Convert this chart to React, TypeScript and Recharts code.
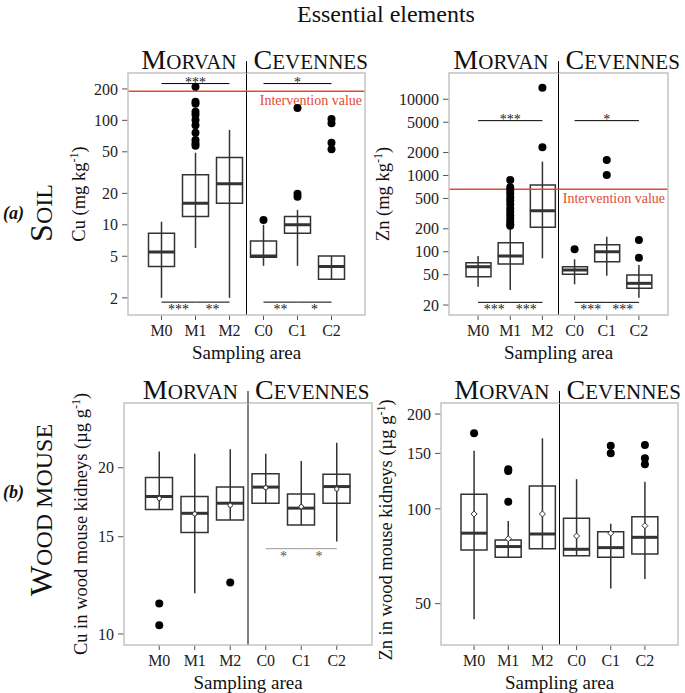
import React from "react";
import { Bar, ComposedChart, ErrorBar, ReferenceLine, Scatter, XAxis, YAxis } from "recharts";

const SERIF = '"Liberation Serif", "DejaVu Serif", serif';
const INK = "#333333";
const RED = "#e34a33";

const areas = ["M0", "M1", "M2", "C0", "C1", "C2"];

// Cu in soil (mg kg-1)
const cuSoilLow = [2.0, 6.0, 2.0, 4.05, 4.05, 3.02];
const cuSoilQ1 = [4.0, 12.0, 16.1, 4.9, 8.3, 3.02];
const cuSoilMedian = [5.5, 16.1, 24.7, 5.04, 10.0, 3.99];
const cuSoilQ3 = [8.3, 30.1, 44.0, 7.0, 12.0, 5.04];
const cuSoilHigh = [10.7, 49.0, 81.0, 10.0, 13.9, 5.04];
const cuSoilOutliers: [string, number[]][] = [
  ["M1", [210, 151, 144, 121, 113, 101, 90, 76, 65, 60, 57]],
  ["C0", [11.1]],
  ["C1", [131, 19.8, 18.6]],
  ["C2", [103, 94, 61, 53]],
];
const cuIntervention = 190;

// Zn in soil (mg kg-1)
const znSoilLow = [34.8, 31.5, 82, 37.4, 48.5, 24.9];
const znSoilQ1 = [47, 69, 209, 50.6, 74, 33.1];
const znSoilMedian = [63.6, 87.9, 346, 57.6, 100, 38.5];
const znSoilQ3 = [71.8, 131.5, 751, 63.6, 123.7, 49.5];
const znSoilHigh = [87.9, 203, 1520, 79.6, 157, 67];
const znSoilOutliers: [string, number[]][] = [
  ["M1", [870, 700, 640, 580, 520, 470, 420, 370, 335, 300, 270, 248, 230, 220]],
  ["M2", [14200, 2350]],
  ["C0", [108]],
  ["C1", [1600, 1017]],
  ["C2", [143, 83.5]],
];
const znIntervention = 660;

// Cu in wood mouse kidneys (µg g-1)
const cuMouseLow = [16.8, 11.85, 16.09, 17.25, 15.76, 14.7];
const cuMouseQ1 = [16.8, 15.26, 16.09, 17.25, 15.76, 17.25];
const cuMouseMedian = [17.74, 16.54, 17.25, 18.45, 16.9, 18.49];
const cuMouseQ3 = [19.2, 17.74, 18.45, 19.5, 17.93, 19.47];
const cuMouseHigh = [21.4, 21.2, 21.6, 21.2, 20.58, 22.2];
const cuMouseMean = [17.6, 16.5, 17.1, 18.4, 17.0, 18.3];
const cuMouseOutliers: [string, number[]][] = [
  ["M0", [11.35, 10.37]],
  ["M2", [12.39]],
];

// Zn in wood mouse kidneys (µg g-1)
const znMouseLow = [44.6, 70.2, 74.7, 70.9, 55.8, 59.9];
const znMouseQ1 = [74, 70.2, 74.7, 70.9, 70.2, 71.9];
const znMouseMedian = [83.7, 75.9, 83.2, 74.4, 75.3, 81.2];
const znMouseQ3 = [111.3, 79.6, 118.2, 93.3, 84.5, 94.4];
const znMouseHigh = [153, 91.5, 167.5, 124.2, 89.6, 122];
const znMouseMean = [96.3, 80.4, 96.3, 82, 83.7, 88.4];
const znMouseOutliers: [string, number[]][] = [
  ["M0", [173.8]],
  ["M1", [133.6, 131.8, 105.4]],
  ["C1", [158.5, 150.1]],
  ["C2", [159.5, 144.7, 138.5]],
];

type Sig = { from: string; to: string; y: number; text: string; below?: boolean };

const cuSoilSigs: Sig[] = [
  { from: "M0", to: "M2", y: 225, text: "***" },
  { from: "C0", to: "C2", y: 225, text: "*" },
  { from: "M0", to: "M1", y: 1.82, text: "***", below: true },
  { from: "M1", to: "M2", y: 1.82, text: "**", below: true },
  { from: "C0", to: "C1", y: 1.82, text: "**", below: true },
  { from: "C1", to: "C2", y: 1.82, text: "*", below: true },
];
const znSoilSigs: Sig[] = [
  { from: "M0", to: "M2", y: 5240, text: "***" },
  { from: "C0", to: "C2", y: 5240, text: "*" },
  { from: "M0", to: "M1", y: 21.7, text: "***", below: true },
  { from: "M1", to: "M2", y: 21.7, text: "***", below: true },
  { from: "C0", to: "C1", y: 21.7, text: "***", below: true },
  { from: "C1", to: "C2", y: 21.7, text: "***", below: true },
];
const cuMouseSigs: Sig[] = [
  { from: "C0", to: "C1", y: 14.27, text: "*", below: true },
  { from: "C1", to: "C2", y: 14.27, text: "*", below: true },
];

function makeRows(low: number[], q1: number[], med: number[], q3: number[], high: number[], mean?: number[]) {
  return areas.map((name, i) => ({
    name,
    box: [q1[i], q3[i]],
    med: med[i],
    whisk: [med[i] - low[i], high[i] - med[i]],
    mean: mean ? mean[i] : undefined,
  }));
}

function makeOutliers(list: [string, number[]][]) {
  return list.flatMap(([name, vals]) => vals.map((v) => ({ name, v })));
}

function YLabel({ viewBox, main, dx, dy }: any) {
  if (!viewBox) return null;
  const cx = viewBox.x + dx;
  const cy = viewBox.y + viewBox.height / 2 + dy;
  return (
    <text x={cx} y={cy + 6} transform={`rotate(-90 ${cx} ${cy})`} textAnchor="middle" fontSize={18.5} fontFamily={SERIF} fill="#111">
      {main}
      <tspan dy={-7} fontSize={12}>-1</tspan>
      <tspan dy={7}>)</tspan>
    </text>
  );
}

function XLabel({ viewBox }: any) {
  if (!viewBox) return null;
  return (
    <text x={viewBox.x + viewBox.width / 2} y={viewBox.y + 44} textAnchor="middle" fontSize={19} fontFamily={SERIF} fill="#111">
      Sampling area
    </text>
  );
}

function StarLabel({ viewBox, text, dy, color }: any) {
  if (!viewBox) return null;
  return (
    <text x={viewBox.x + viewBox.width / 2} y={viewBox.y + dy} textAnchor="middle" fontSize={14} fontFamily={SERIF} fill={color}>
      {text}
    </text>
  );
}

function LimitLabel({ viewBox }: any) {
  if (!viewBox) return null;
  return (
    <text x={viewBox.x + viewBox.width - 3} y={viewBox.y + 14} textAnchor="end" fontSize={14} fontFamily={SERIF} fill={RED}>
      Intervention value
    </text>
  );
}

const Hidden = () => <g />;
const OutlierMark = (p: any) => <circle cx={p.cx} cy={p.cy} r={4} fill="#000" />;
const CircleMean = (p: any) => <circle cx={p.cx} cy={p.cy} r={2.2} fill="#fff" stroke={INK} strokeWidth={1} />;
const DiamondMean = (p: any) => (
  <path d={`M${p.cx},${p.cy - 3} L${p.cx + 3},${p.cy} L${p.cx},${p.cy + 3} L${p.cx - 3},${p.cy} Z`} fill="#fff" stroke={INK} strokeWidth={1} />
);

type Plot = { x0: number; x1: number; y0: number; y1: number };

type PanelProps = {
  left: number;
  top: number;
  plot: Plot;
  pad: number;
  boxW: number;
  rows: any[];
  outliers: { name: string; v: number }[];
  sigs: Sig[];
  sigColor: string;
  domain: [number, number];
  ticks: number[];
  label: string;
  labelDx: number;
  labelDy: number;
  limit?: number;
  meanShape?: (p: any) => React.ReactElement;
};

function Panel(props: PanelProps) {
  const { left, top, plot, pad, boxW, rows, outliers, sigs, sigColor, domain, ticks, label, labelDx, labelDy, limit, meanShape } = props;
  const width = plot.x1 - left + 4;
  const height = plot.y1 - top + 52;
  const half = boxW / 2;
  const MedianMark = (p: any) => (
    <line x1={p.cx - half} x2={p.cx + half} y1={p.cy} y2={p.cy} stroke={INK} strokeWidth={3} />
  );
  return (
    <div style={{ position: "absolute", left, top }}>
      <ComposedChart width={width} height={height} data={rows} margin={{ top: plot.y0 - top, right: 4, bottom: 4, left: 0 }}>
        <XAxis
          dataKey="name"
          type="category"
          allowDuplicatedCategory={false}
          padding={{ left: pad, right: pad }}
          axisLine={false}
          tickLine={{ stroke: "#555" }}
          tickSize={5}
          tickMargin={5}
          interval={0}
          tick={{ fontSize: 16, fill: "#222", fontFamily: SERIF }}
          height={48}
          label={<XLabel />}
        />
        <YAxis
          type="number"
          scale="log"
          domain={domain}
          allowDataOverflow
          ticks={ticks}
          interval={0}
          width={plot.x0 - left}
          axisLine={false}
          tickLine={{ stroke: "#555" }}
          tickSize={6}
          tickMargin={4}
          tick={{ fontSize: 16, fill: "#222", fontFamily: SERIF }}
          label={<YLabel main={label} dx={labelDx} dy={labelDy} />}
        />
        <ReferenceLine x="C0" position="start" stroke="#000" strokeWidth={1} ifOverflow="visible" />
        <Scatter dataKey="med" shape={Hidden} isAnimationActive={false}>
          <ErrorBar dataKey="whisk" direction="y" width={0} stroke={INK} strokeWidth={1.5} isAnimationActive={false} />
        </Scatter>
        <Bar dataKey="box" barSize={boxW} fill="#fff" stroke={INK} strokeWidth={1.5} isAnimationActive={false} />
        <Scatter dataKey="med" shape={MedianMark} isAnimationActive={false} />
        {meanShape && <Scatter dataKey="mean" shape={meanShape} isAnimationActive={false} />}
        <Scatter data={outliers} dataKey="v" shape={OutlierMark} isAnimationActive={false} />
        {limit !== undefined && (
          <ReferenceLine y={limit} stroke={RED} strokeWidth={1.5} ifOverflow="visible" label={<LimitLabel />} />
        )}
        {sigs.map((s, i) => (
          <ReferenceLine
            key={i}
            segment={[
              { x: s.from, y: s.y },
              { x: s.to, y: s.y },
            ]}
            stroke={sigColor}
            strokeWidth={1}
            ifOverflow="visible"
            label={<StarLabel text={s.text} dy={s.below ? 12 : 3} color={sigColor === "#000" ? "#222" : "#555"} />}
          />
        ))}
      </ComposedChart>
    </div>
  );
}

const panels = [
  { plot: { x0: 128, x1: 365, y0: 73, y1: 315 }, pad: 16.5 },
  { plot: { x0: 449, x1: 668, y0: 73, y1: 315 }, pad: 13 },
  { plot: { x0: 124, x1: 372, y0: 403, y1: 645 }, pad: 17.5 },
  { plot: { x0: 441, x1: 678, y0: 403, y1: 645 }, pad: 16 },
];

function dividerX(p: Plot, pad: number) {
  const bw = (p.x1 - p.x0 - 2 * pad) / 6;
  return p.x0 + pad + 3 * bw;
}

function Overlay() {
  return (
    <svg width={685} height={693} style={{ position: "absolute", left: 0, top: 0, pointerEvents: "none" }}>
      <text x={297} y={22} fontSize={24} fontFamily={SERIF} fill="#111">
        Essential elements
      </text>
      {panels.map(({ plot, pad }, i) => {
        const dx = dividerX(plot, pad);
        const base = plot.y0 - 4;
        return (
          <g key={i}>
            <rect x={plot.x0} y={plot.y0} width={plot.x1 - plot.x0} height={plot.y1 - plot.y0} fill="none" stroke="#c4c4c4" strokeWidth={1.5} />
            <line x1={dx} x2={dx} y1={plot.y0 - 12} y2={plot.y0} stroke="#000" strokeWidth={1} />
            <text x={dx - 10} y={base} textAnchor="end" fontFamily={SERIF} fill="#111">
              <tspan fontSize={28}>M</tspan>
              <tspan fontSize={21}>ORVAN</tspan>
            </text>
            <text x={dx + 7} y={base} textAnchor="start" fontFamily={SERIF} fill="#111">
              <tspan fontSize={28}>C</tspan>
              <tspan fontSize={21}>EVENNES</tspan>
            </text>
          </g>
        );
      })}
      <text x={3} y={219} fontSize={18} fontWeight="bold" fontStyle="italic" fontFamily={SERIF} fill="#111">
        (a)
      </text>
      <text x={3} y={498} fontSize={18} fontWeight="bold" fontStyle="italic" fontFamily={SERIF} fill="#111">
        (b)
      </text>
      <text x={42} y={223} transform="rotate(-90 42 213)" textAnchor="middle" fontFamily={SERIF} fill="#111">
        <tspan fontSize={32}>S</tspan>
        <tspan fontSize={24}>OIL</tspan>
      </text>
      <text x={42} y={520} transform="rotate(-90 42 510)" textAnchor="middle" fontFamily={SERIF} fill="#111">
        <tspan fontSize={32}>W</tspan>
        <tspan fontSize={24}>OOD MOUSE</tspan>
      </text>
    </svg>
  );
}

export default function App() {
  return (
    <div style={{ position: "absolute", left: 0, top: 0, width: 685, height: 693, overflow: "hidden", background: "#fff" }}>
      <Panel
        left={60}
        top={60}
        plot={panels[0].plot}
        pad={panels[0].pad}
        boxW={26}
        rows={makeRows(cuSoilLow, cuSoilQ1, cuSoilMedian, cuSoilQ3, cuSoilHigh)}
        outliers={makeOutliers(cuSoilOutliers)}
        sigs={cuSoilSigs}
        sigColor="#000"
        domain={[1.37, 284]}
        ticks={[2, 5, 10, 20, 50, 100, 200]}
        label="Cu (mg kg"
        labelDx={19}
        labelDy={0}
        limit={cuIntervention}
      />
      <Panel
        left={370}
        top={60}
        plot={panels[1].plot}
        pad={panels[1].pad}
        boxW={25}
        rows={makeRows(znSoilLow, znSoilQ1, znSoilMedian, znSoilQ3, znSoilHigh)}
        outliers={makeOutliers(znSoilOutliers)}
        sigs={znSoilSigs}
        sigColor="#000"
        domain={[14.8, 22100]}
        ticks={[20, 50, 100, 200, 500, 1000, 2000, 5000, 10000]}
        label="Zn (mg kg"
        labelDx={13}
        labelDy={0}
        limit={znIntervention}
      />
      <Panel
        left={60}
        top={390}
        plot={panels[2].plot}
        pad={panels[2].pad}
        boxW={27}
        rows={makeRows(cuMouseLow, cuMouseQ1, cuMouseMedian, cuMouseQ3, cuMouseHigh, cuMouseMean)}
        outliers={makeOutliers(cuMouseOutliers)}
        sigs={cuMouseSigs}
        sigColor="#999"
        domain={[9.55, 26.2]}
        ticks={[10, 15, 20]}
        label="Cu in wood mouse kidneys (µg g"
        labelDx={21}
        labelDy={0}
        meanShape={CircleMean}
      />
      <Panel
        left={370}
        top={390}
        plot={panels[3].plot}
        pad={panels[3].pad}
        boxW={26}
        rows={makeRows(znMouseLow, znMouseQ1, znMouseMedian, znMouseQ3, znMouseHigh, znMouseMean)}
        outliers={makeOutliers(znMouseOutliers)}
        sigs={[]}
        sigColor="#999"
        domain={[36.95, 216.8]}
        ticks={[50, 100, 150, 200]}
        label="Zn in wood mouse kidneys (µg g"
        labelDx={16}
        labelDy={6}
        meanShape={DiamondMean}
      />
      <Overlay />
    </div>
  );
}
